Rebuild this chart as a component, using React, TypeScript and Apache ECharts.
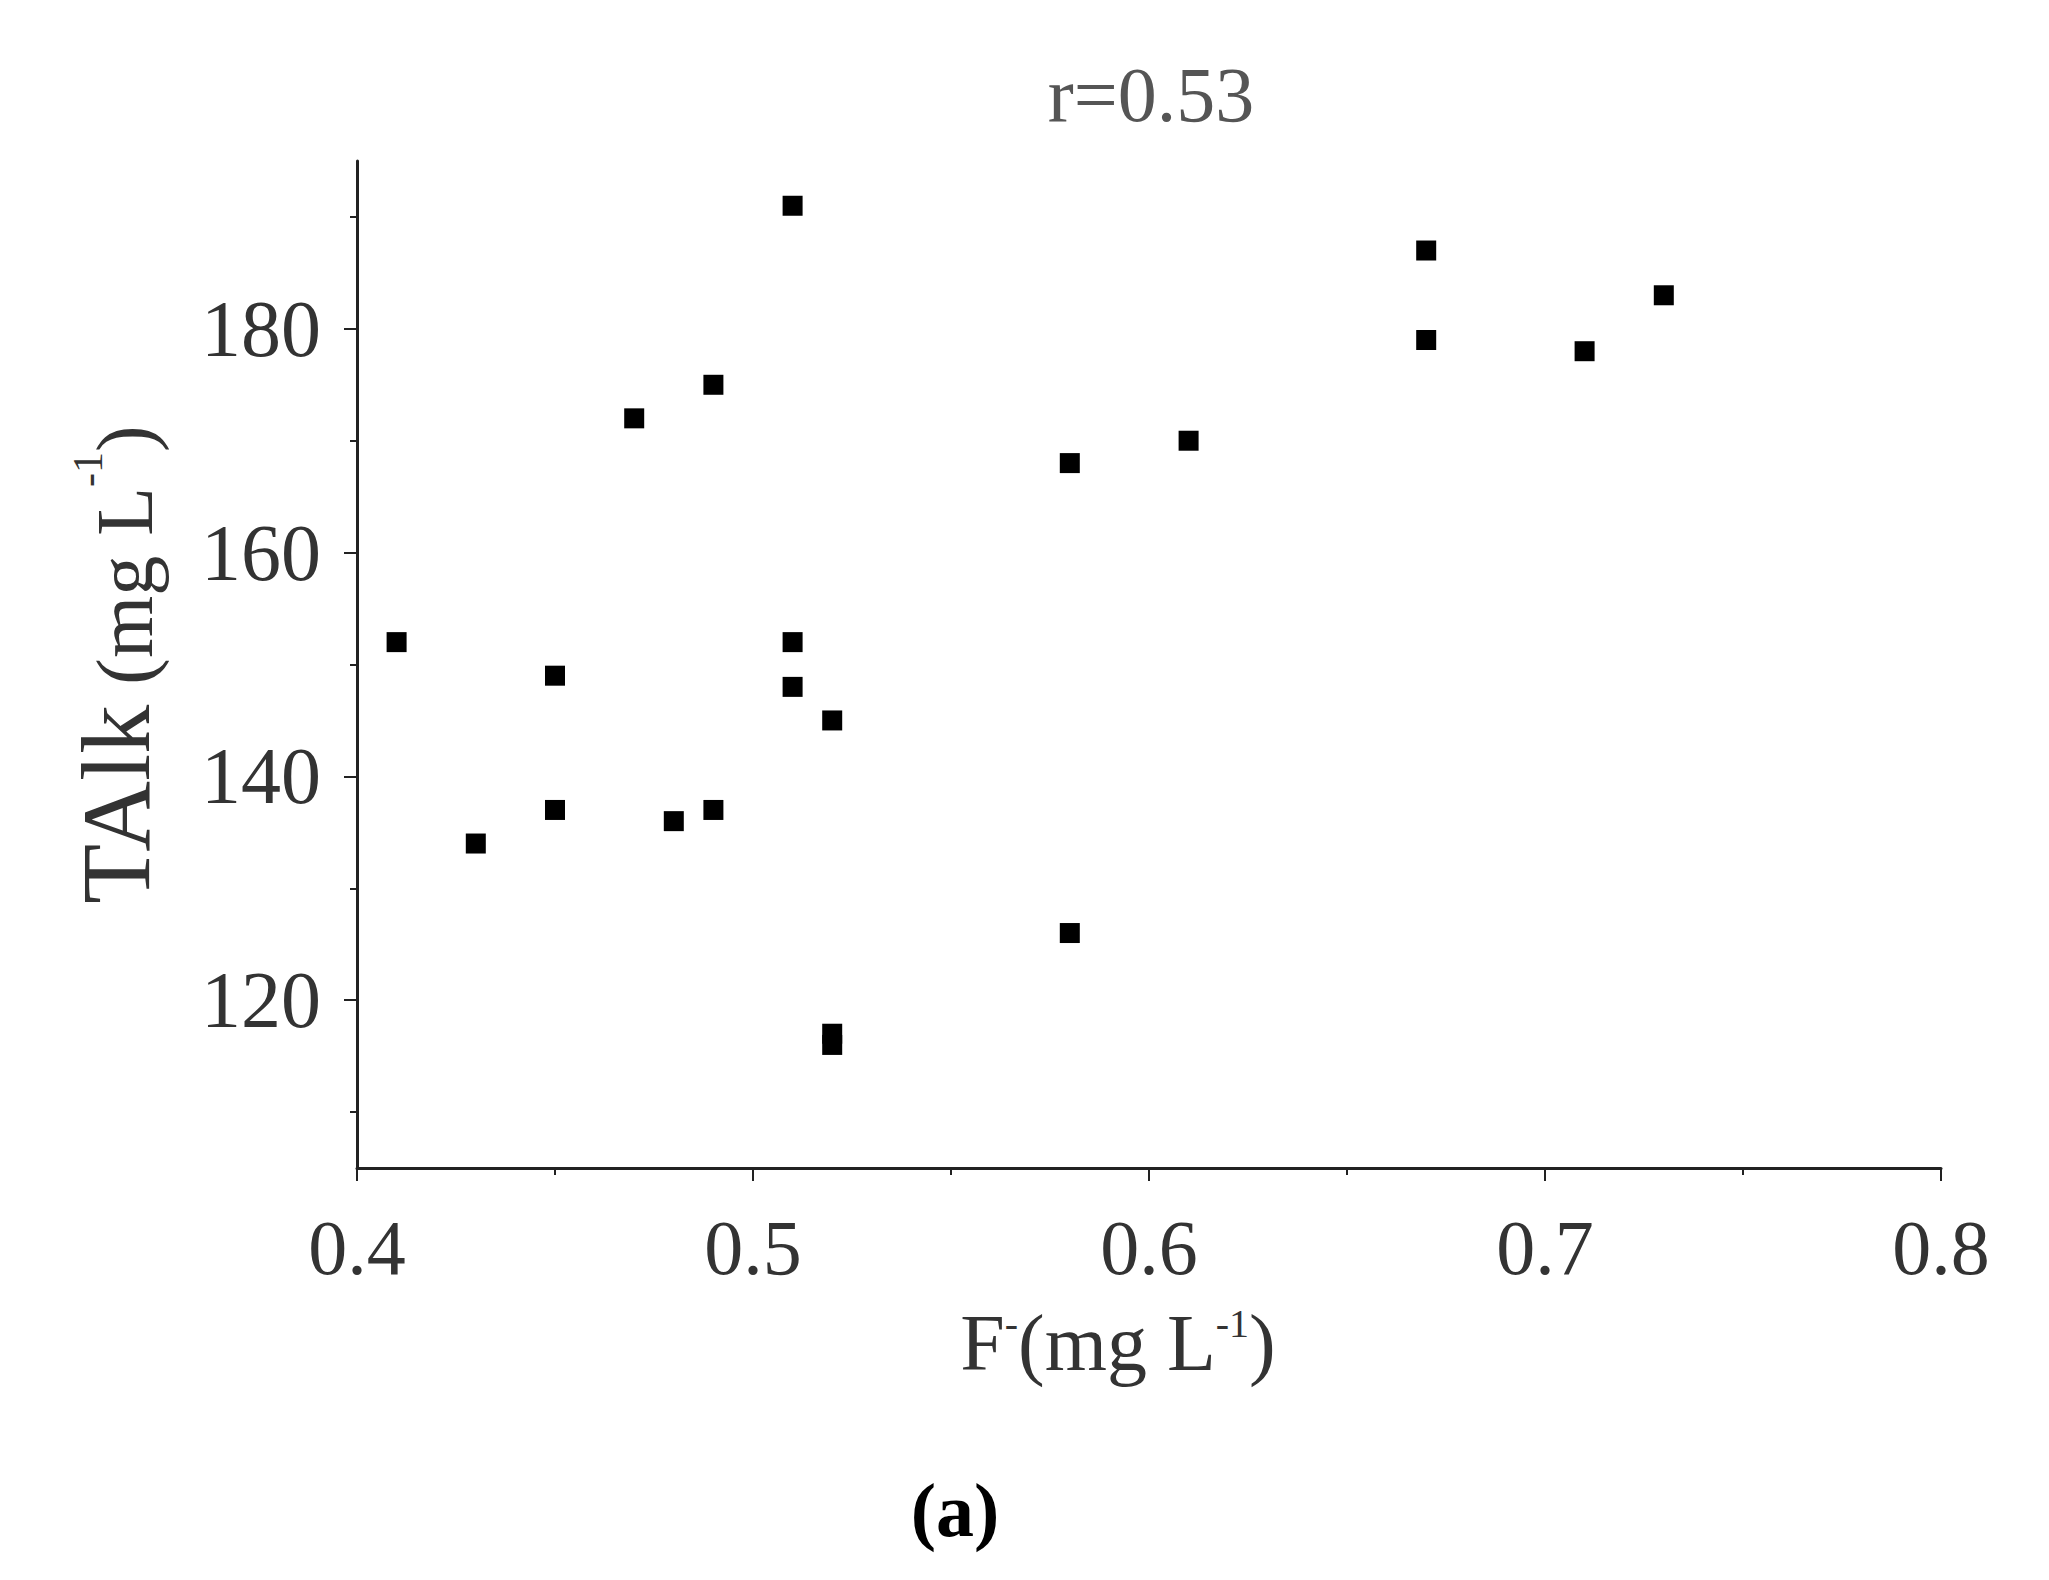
import React, { useEffect, useRef } from "react";
import * as echarts from "echarts";

// Data (F- in mg/L, TAlk in mg/L)
const fValues = [0.41, 0.43, 0.45, 0.45, 0.47, 0.48, 0.49, 0.49, 0.51, 0.51, 0.51, 0.52, 0.52, 0.52, 0.58, 0.58, 0.61, 0.67, 0.67, 0.71, 0.73];
const talkValues = [152, 134, 149, 137, 172, 136, 175, 137, 191, 152, 148, 145, 117, 116, 168, 126, 170, 187, 179, 178, 183];
const yMajorTicks = [120, 140, 160, 180];
const yMinorTicks = [110, 130, 150, 170, 190];
const titleText = "r=0.53";
const panelLabel = "(a)";

const FONT = "'Liberation Serif', 'Times New Roman', serif";

export default function App() {
  const ref = useRef<HTMLDivElement>(null);
  useEffect(() => {
    if (!ref.current) return;
    const chart = echarts.init(ref.current, undefined, { renderer: "svg" });
    const points = fValues.map((f, i) => [f, talkValues[i]]);
    chart.setOption({
      animation: false,
      backgroundColor: "#ffffff",
      title: {
        text: titleText,
        left: 1146,
        top: 50,
        textAlign: "center",
        textStyle: { fontFamily: FONT, fontSize: 78, fontWeight: "normal", color: "#555" },
      },
      grid: { left: 357, right: 108, top: 161, bottom: 412, containLabel: false },
      xAxis: {
        type: "value",
        min: 0.4,
        max: 0.8,
        interval: 0.1,
        splitLine: { show: false },
        axisLine: { lineStyle: { color: "#222", width: 3 } },
        axisTick: { length: 13, lineStyle: { color: "#222", width: 2 } },
        minorTick: { show: true, splitNumber: 2, length: 7, lineStyle: { color: "#222", width: 2 } },
        axisLabel: { fontFamily: FONT, fontSize: 78, color: "#333", margin: 40, formatter: (v: number) => v.toFixed(1) },
        nameLocation: "middle",
        nameGap: 135,
        name: "{t|F}{s|-}{t|(mg L}{s|-1}{t|)}",
        nameTextStyle: {
          padding: [0, 62, 0, 0],
          rich: {
            t: { fontFamily: FONT, fontSize: 80, color: "#333", verticalAlign: "bottom" },
            s: { fontFamily: FONT, fontSize: 40, color: "#333", verticalAlign: "top" },
          },
        },
      },
      yAxis: [
        {
          type: "value",
          min: 105,
          max: 195,
          splitLine: { show: false },
          axisLine: { show: true, lineStyle: { color: "#222", width: 3 } },
          axisTick: { show: true, length: 13, customValues: yMajorTicks, lineStyle: { color: "#222", width: 2 } },
          axisLabel: { fontFamily: FONT, fontSize: 80, color: "#333", margin: 36, customValues: yMajorTicks },
          nameLocation: "middle",
          nameGap: 192,
          name: "{b|TAlk}{m| (mg L}{s|-1}{m|)}",
          nameTextStyle: {
            rich: {
              b: { fontFamily: FONT, fontSize: 98, color: "#333", verticalAlign: "bottom" },
              m: { fontFamily: FONT, fontSize: 80, color: "#333", verticalAlign: "bottom" },
              s: { fontFamily: FONT, fontSize: 42, color: "#333", verticalAlign: "top" },
            },
          },
        },
        {
          type: "value",
          min: 105,
          max: 195,
          position: "left",
          splitLine: { show: false },
          axisLine: { show: false },
          axisTick: { show: true, length: 7, customValues: yMinorTicks, lineStyle: { color: "#222", width: 2 } },
          axisLabel: { show: false },
        },
      ],
      series: [
        {
          type: "scatter",
          data: points,
          symbol: "rect",
          symbolSize: 20,
          itemStyle: { color: "#000", opacity: 1 },
        },
      ],
      graphic: [
        {
          type: "text",
          x: 955,
          y: 1510,
          style: {
            text: panelLabel,
            fontFamily: FONT,
            fontSize: 76,
            fontWeight: "bold",
            fill: "#000",
            textAlign: "center",
            textVerticalAlign: "middle",
          },
        },
      ],
    });
    return () => chart.dispose();
  }, []);
  return <div ref={ref} style={{ position: "fixed", left: 0, top: 0, width: 2049, height: 1580 }} />;
}
